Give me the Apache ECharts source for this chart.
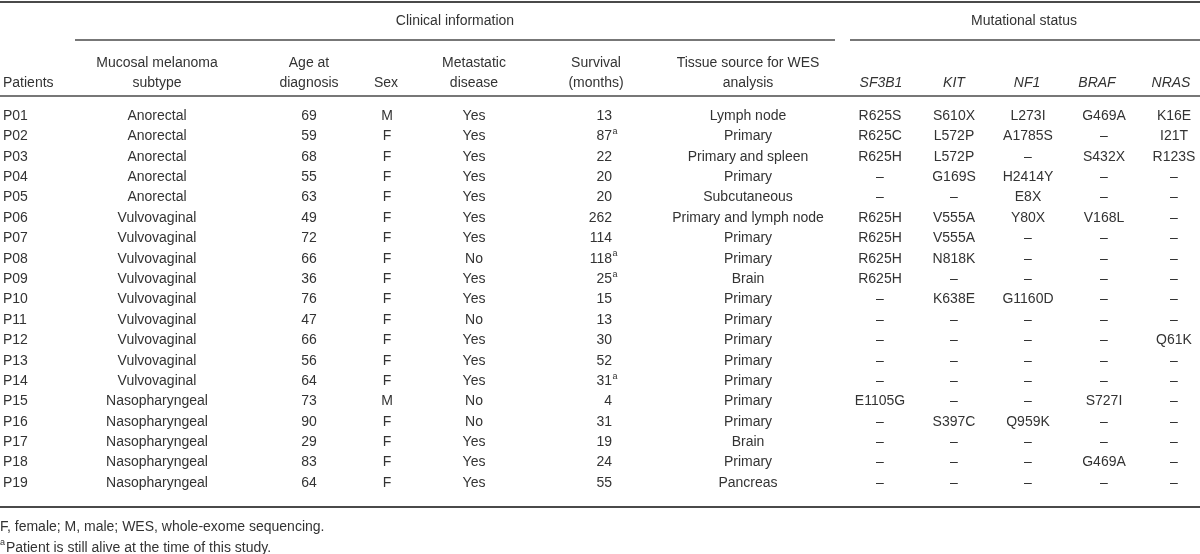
<!DOCTYPE html>
<html>
<head>
<meta charset="utf-8">
<script src="https://cdn.jsdelivr.net/npm/echarts@6/dist/echarts.min.js"></script>
<style>
html,body{margin:0;padding:0;background:#fff;}
#chart{width:1200px;height:554px;}
</style>
</head>
<body>
<div id="chart"></div>
<script>
// ---------- data ----------
const patients = ['P01','P02','P03','P04','P05','P06','P07','P08','P09','P10','P11','P12','P13','P14','P15','P16','P17','P18','P19'];
const subtypes = ['Anorectal','Anorectal','Anorectal','Anorectal','Anorectal','Vulvovaginal','Vulvovaginal','Vulvovaginal','Vulvovaginal','Vulvovaginal','Vulvovaginal','Vulvovaginal','Vulvovaginal','Vulvovaginal','Nasopharyngeal','Nasopharyngeal','Nasopharyngeal','Nasopharyngeal','Nasopharyngeal'];
const ages = [69,59,68,55,63,49,72,66,36,76,47,66,56,64,73,90,29,83,64];
const sexes = ['M','F','F','F','F','F','F','F','F','F','F','F','F','F','M','F','F','F','F'];
const metastatic = ['Yes','Yes','Yes','Yes','Yes','Yes','Yes','No','Yes','Yes','No','Yes','Yes','Yes','No','No','Yes','Yes','Yes'];
const survival = [13,87,22,20,20,262,114,118,25,15,13,30,52,31,4,31,19,24,55];
const stillAlive = [false,true,false,false,false,false,false,true,true,false,false,false,false,true,false,false,false,false,false];
const tissue = ['Lymph node','Primary','Primary and spleen','Primary','Subcutaneous','Primary and lymph node','Primary','Primary','Brain','Primary','Primary','Primary','Primary','Primary','Primary','Primary','Brain','Primary','Pancreas'];
const D = '\u2013';
const sf3b1 = ['R625S','R625C','R625H',D,D,'R625H','R625H','R625H','R625H',D,D,D,D,D,'E1105G',D,D,D,D];
const kit = ['S610X','L572P','L572P','G169S',D,'V555A','V555A','N818K',D,'K638E',D,D,D,D,D,'S397C',D,D,D];
const nf1 = ['L273I','A1785S',D,'H2414Y','E8X','Y80X',D,D,D,'G1160D',D,D,D,D,D,'Q959K',D,D,D];
const braf = ['G469A',D,'S432X',D,D,'V168L',D,D,D,D,D,D,D,D,'S727I',D,D,'G469A',D];
const nras = ['K16E','I21T','R123S',D,D,D,D,D,D,D,D,'Q61K',D,D,D,D,D,D,D];

const groupHeaders = ['Clinical information','Mutational status'];
const columnHeaders = [['','Patients'],['Mucosal melanoma','subtype'],['Age at','diagnosis'],['','Sex'],['Metastatic','disease'],['Survival','(months)'],['Tissue source for WES','analysis'],['','SF3B1'],['','KIT'],['','NF1'],['','BRAF'],['','NRAS']];
const footnotes = ['F, female; M, male; WES, whole-exome sequencing.','Patient is still alive at the time of this study.'];

// ---------- layout (positions/styles, not data) ----------
const columnsData = [patients, subtypes, ages, sexes, metastatic, survival, tissue, sf3b1, kit, nf1, braf, nras];
const colX =     [3,   157, 309, 387, 474, 612, 748, 880, 954, 1028, 1104, 1174];
const colAlign = ['left','center','center','center','center','right','center','center','center','center','center','center'];
const headX =    [3,   157, 309, 386, 474, 596, 748, 881, 954, 1027, 1097, 1171];
const headAlign= ['left','center','center','center','center','center','center','center','center','center','center','center'];
const italicHead=[false,false,false,false,false,false,false,true,true,true,true,true];
const groupX = [455, 1024];
const groupY = 21;
const head1Y = 63, head2Y = 83;
const row0Y = 116, rowStep = 20.39;
const footY = [527, 548];
const rules = [ // [x1, x2, y, width]
  [0, 1200, 2, 2],
  [75, 835, 40, 1.4],
  [850, 1200, 40, 1.4],
  [0, 1200, 96, 1.6],
  [0, 1200, 507, 2]
];
const FONT = 'Liberation Sans, Arial, Helvetica, sans-serif';
const FS = 14;
const TXT = '#333';

// ---------- build text items ----------
const texts = []; // [x, y, text, align, kind]
groupHeaders.forEach((t,i)=>texts.push([groupX[i], groupY, t, 'center', 'n']));
columnHeaders.forEach((h,i)=>{
  if (h[0]) texts.push([headX[i], head1Y, h[0], headAlign[i], italicHead[i]?'i':'n']);
  texts.push([headX[i], head2Y, h[1], headAlign[i], italicHead[i]?'i':'n']);
});
columnsData.forEach((col,ci)=>{
  col.forEach((v,ri)=>{
    texts.push([colX[ci], row0Y + ri*rowStep, String(v), colAlign[ci], 'n']);
  });
});
stillAlive.forEach((a,ri)=>{
  if (a) texts.push([colX[5] + 0.5, row0Y + ri*rowStep - 5, 'a', 'left', 's']);
});
texts.push([0, footY[0], footnotes[0], 'left', 'n']);
texts.push([0, footY[1] - 5, 'a', 'left', 's']);
texts.push([6, footY[1], footnotes[1], 'left', 'n']);

const chart = echarts.init(document.getElementById('chart'), null, {renderer:'canvas'});
chart.setOption({
  backgroundColor: '#fff',
  animation: false,
  grid: {left:0, right:0, top:0, bottom:0},
  xAxis: {type:'value', min:0, max:1200, show:false},
  yAxis: {type:'value', min:0, max:554, inverse:true, show:false},
  series: [
    {
      type:'custom',
      coordinateSystem:'cartesian2d',
      data: rules,
      renderItem: function(params, api){
        const p1 = api.coord([api.value(0), api.value(2)]);
        const p2 = api.coord([api.value(1), api.value(2)]);
        return {type:'line', shape:{x1:p1[0], y1:p1[1], x2:p2[0], y2:p2[1]}, style:{stroke:'#4a4a4a', lineWidth: api.value(3)}};
      }
    },
    {
      type:'custom',
      coordinateSystem:'cartesian2d',
      data: texts,
      dimensions: ['x','y','t','a','k'],
      renderItem: function(params, api){
        const d = texts[params.dataIndex];
        const p = api.coord([d[0], d[1]]);
        let font;
        if (d[4]==='i') font = 'italic ' + FS + 'px ' + FONT;
        else if (d[4]==='s') font = '9px ' + FONT;
        else font = FS + 'px ' + FONT;
        return {type:'text', x:p[0], y:p[1], style:{text:d[2], fill:TXT, font:font, align:d[3], verticalAlign:'middle'}};
      }
    }
  ]
});
</script>
</body>
</html>
